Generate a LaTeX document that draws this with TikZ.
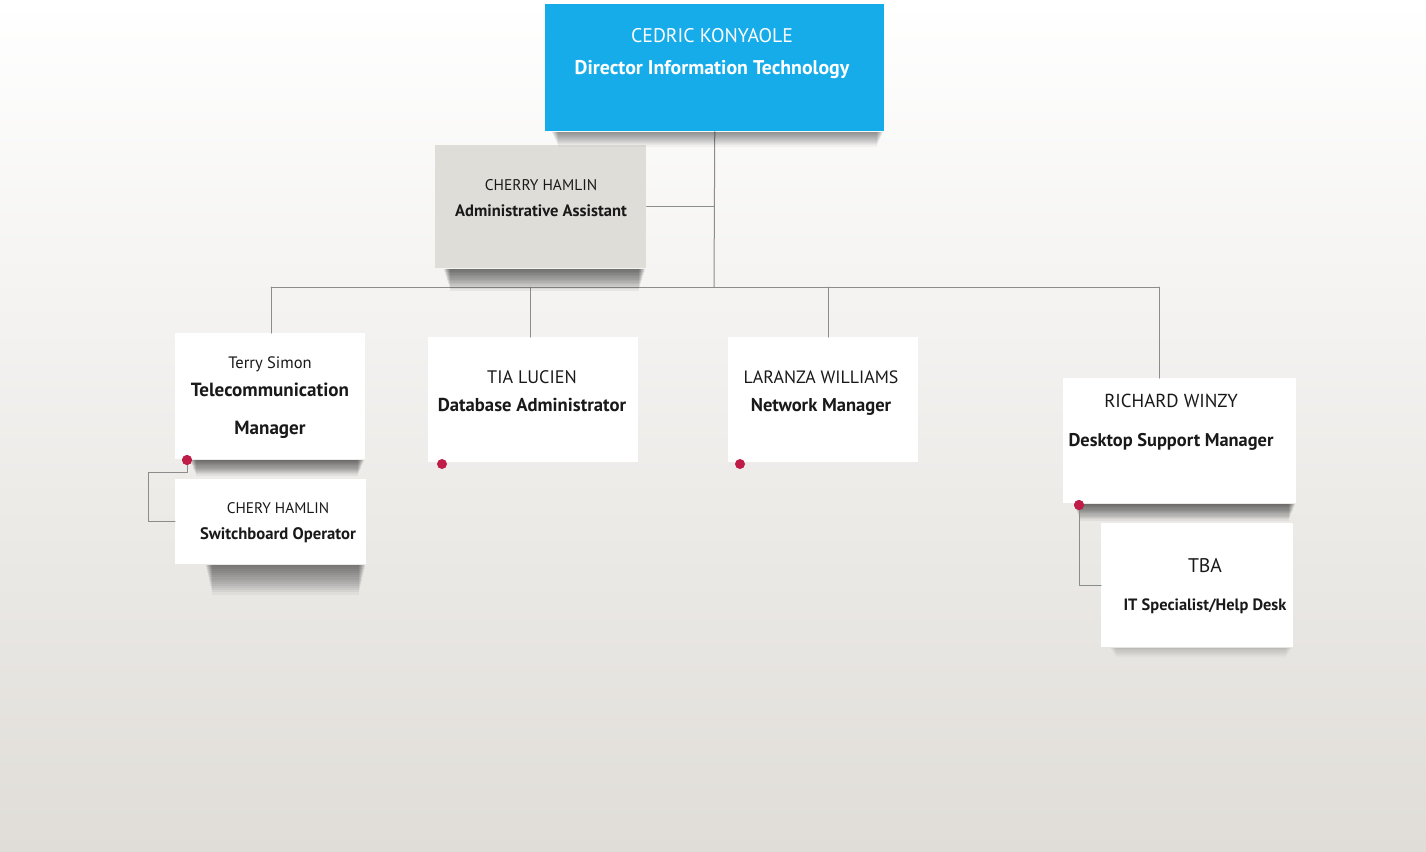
\documentclass[tikz,border=0pt]{standalone}
\usepackage{fontspec}
\setmainfont{PT Sans}
\definecolor{itblue}{RGB}{22,172,234}
\definecolor{admgray}{RGB}{223,221,216}
\definecolor{bgbot}{RGB}{224,221,216}
\definecolor{linkgray}{RGB}{140,140,140}
\definecolor{pin}{RGB}{192,28,72}
\tikzset{
  card/.style 2 args={fill=white, inner sep=0pt, anchor=north west,
    minimum width=#1*0.75pt, minimum height=#2*0.75pt},
  cardtext/.style={align=center, inner sep=0pt, text=black!90},
  link/.style={draw=linkgray, line width=0.75pt},
  pindot/.style={circle, fill=pin, inner sep=0pt, minimum size=7.5pt},
}
% soft shadow below a card: node, depth (px), opacity of one layer, left inset (px)
\newcommand{\cardshadow}[4]{%
  \foreach \k in {1,...,14}{
    \fill[black, opacity=#3]
      ([xshift=(#4+0.5*\k)*0.75pt]#1.south west) rectangle
      ([xshift=-(1+0.5*\k)*0.75pt, yshift=-#2*\k/14*0.75pt]#1.south east);}}
\begin{document}
\begin{tikzpicture}[x=0.75pt, y=-0.75pt, line cap=round, line join=round]
  \useasboundingbox (0,0) rectangle (1426,851);
  \shade[top color=white, bottom color=bgbot] (0,0) rectangle (1426,851);

  % connectors
  \coordinate (hub) at (714,287);
  \coordinate (barL) at (271,287);
  \coordinate (barR) at (1159,287);
  \coordinate (tapTia) at (530,287);
  \coordinate (tapLar) at (828,287);
  \coordinate (sbturn) at (148,472);

  % cards
  \node[card={339}{127}, fill=itblue] (dir) at (545,4) {};
  \node[card={211}{123}, fill=admgray] (adm) at (435,145) {};
  \node[card={190}{126}] (terry) at (175,333) {};
  \node[card={191}{85}] (chery) at (175,479) {};
  \node[card={210}{125}] (tia) at (428,337) {};
  \node[card={190}{125}] (lar) at (728,337) {};
  \node[card={233}{125}] (rich) at (1063,378) {};
  \node[card={192}{124}] (tba) at (1101,523) {};

  \draw[link] (dir.south) -- (hub);
  \draw[link] (adm.east) -- (adm.east -| hub);
  \draw[link] (barL) -- (barR);
  \draw[link] (barL) -- (barL |- terry.north);
  \draw[link] (tapTia) -- (tapTia |- tia.north);
  \draw[link] (tapLar) -- (tapLar |- lar.north);
  \draw[link] (barR) -- (barR |- rich.north);

  \cardshadow{dir}{15}{0.035}{6}
  \cardshadow{adm}{22}{0.05}{8}
  \cardshadow{terry}{16}{0.05}{14}
  \cardshadow{chery}{30}{0.045}{30}
  \cardshadow{rich}{17}{0.05}{10}
  \cardshadow{tba}{10}{0.012}{8}

  % texts
  \node[cardtext, text=white, font=\fontsize{14.8}{24}\selectfont] (dirtext) at (712,54)
    {CEDRIC KONYAOLE\\{\bfseries\fontsize{14.9}{24}\selectfont Director Information Technology}};
  \node[cardtext, font=\fontsize{11.6}{20}\selectfont] (admtext) at (541,198)
    {CHERRY HAMLIN\\{\bfseries\fontsize{12.4}{20}\selectfont Administrative Assistant}};
  \node[cardtext, font=\fontsize{12.4}{21}\selectfont] (terrytext) at (270,398)
    {Terry Simon\\{\bfseries\fontsize{14.3}{21}\selectfont Telecommunication}\\[7.5pt]{\bfseries\fontsize{14.3}{21}\selectfont Manager}};
  \node[cardtext, font=\fontsize{11.5}{19.5}\selectfont] (cherytext) at (278,523)
    {CHERY HAMLIN\\{\bfseries\fontsize{12.5}{19.5}\selectfont Switchboard Operator}};
  \node[cardtext, font=\fontsize{13.6}{21}\selectfont] (tiatext) at (532,391)
    {TIA LUCIEN\\{\bfseries\fontsize{14}{21}\selectfont Database Administrator}};
  \node[cardtext, font=\fontsize{13.4}{21}\selectfont] (lartext) at (821,393)
    {LARANZA WILLIAMS\\{\bfseries\fontsize{13.9}{21}\selectfont Network Manager}};
  \node[cardtext, font=\fontsize{14.1}{29}\selectfont] (richtext) at (1171,422)
    {RICHARD WINZY\\{\bfseries\fontsize{13.8}{29}\selectfont Desktop Support Manager}};
  \node[cardtext, font=\fontsize{14.8}{29}\selectfont] (tbatext) at (1205,586)
    {TBA\\{\bfseries\fontsize{12.3}{29}\selectfont IT Specialist/Help Desk}};

  % pins and sub links
  \node[pindot] (terrypin) at (187,460) {};
  \node[pindot] (tiapin) at (442,464) {};
  \node[pindot] (larpin) at (740,464) {};
  \node[pindot] (richpin) at (1079,505) {};

  \draw[link] (terrypin) |- (sbturn) |- (chery.west);
  \draw[link] (richpin) |- (tba.west);
  \node[pindot] at (terrypin) {};
  \node[pindot] at (richpin) {};
\end{tikzpicture}
\end{document}
